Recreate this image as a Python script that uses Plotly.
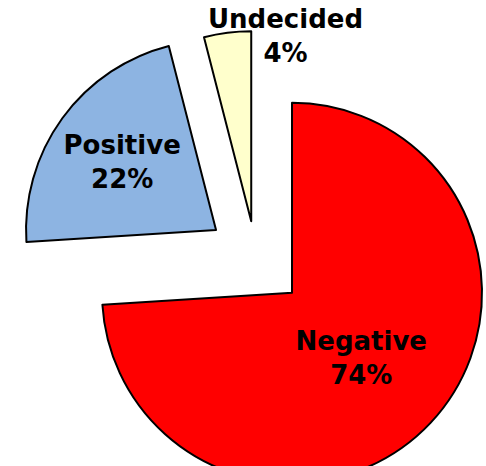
import plotly.graph_objects as go

# ---- data ----
labels = ["Negative", "Positive", "Undecided"]
values = [74, 22, 4]
colors = ["#FF0000", "#8DB4E2", "#FFFFCC"]
pulls = [0.26, 0.26, 0.20]

# ---- layout geometry (pixels) ----
FIG_W, FIG_H = 500, 500
CX, CY, R = 256, 259, 190
box = 2 * (1 + max(pulls)) * R
dom_x = [(CX - box / 2) / FIG_W, (CX + box / 2) / FIG_W]
dom_y = [1 - (CY + box / 2) / FIG_H, 1 - (CY - box / 2) / FIG_H]

fig = go.Figure(
    go.Pie(
        labels=labels,
        values=values,
        sort=False,
        direction="clockwise",
        rotation=0,
        pull=pulls,
        marker=dict(colors=colors, line=dict(color="black", width=2)),
        texttemplate="%{label}<br>%{value}%",
        textposition=["inside", "inside", "none"],
        insidetextorientation="horizontal",
        textfont=dict(family="DejaVu Sans", size=26, color="black", weight="bold"),
        domain=dict(x=dom_x, y=dom_y),
        showlegend=False,
        hoverinfo="label+percent",
    )
)

fig.add_annotation(
    text=f"{labels[2]}<br>{values[2]}%",
    x=285 / FIG_W, y=1 - 36 / FIG_H, xref="paper", yref="paper",
    xanchor="center", yanchor="middle", showarrow=False,
    font=dict(family="DejaVu Sans", size=26, color="black", weight="bold"),
)

fig.update_layout(
    width=FIG_W, height=FIG_H,
    margin=dict(l=0, r=0, t=0, b=0),
    paper_bgcolor="white", plot_bgcolor="white",
)

fig.write_html(
    "out.html",
    config={"displayModeBar": False},
    post_script="document.body.style.margin='0';document.body.style.overflow='hidden';",
)
